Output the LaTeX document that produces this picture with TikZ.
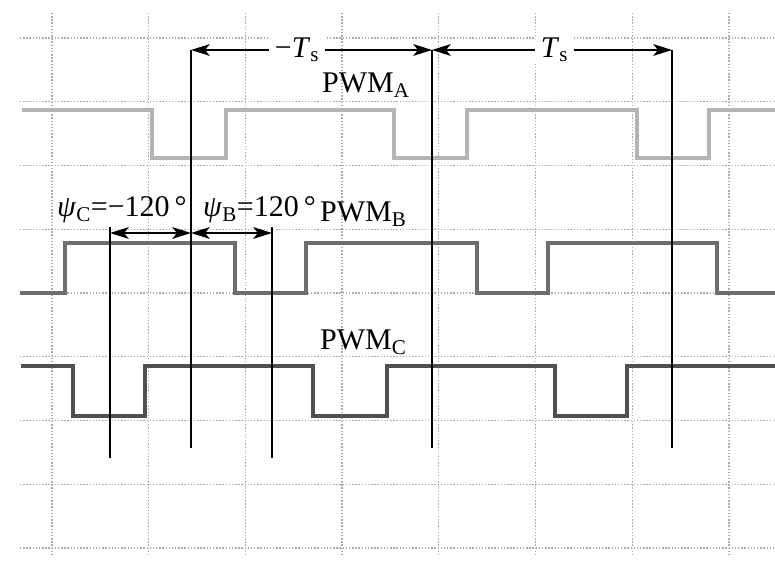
\documentclass[tikz,border=0pt]{standalone}
\usepackage{fontspec}
\setmainfont{Liberation Serif}
\usetikzlibrary{arrows.meta}
\definecolor{GridGray}{HTML}{ABABAB}
\definecolor{WaveA}{HTML}{B4B4B4}
\definecolor{WaveB}{HTML}{6E6E6E}
\definecolor{WaveC}{HTML}{505050}
\tikzset{
  gridline/.style={GridGray,line width=1.1pt,dash pattern=on 1.2pt off 1.5pt},
  wave/.style={line width=3.4pt},
  marker/.style={line width=1.5pt},
  dimarrow/.style={line width=1.3pt,{Stealth[length=16pt,width=10pt,inset=4pt]}-{Stealth[length=16pt,width=10pt,inset=4pt]}},
  lbl/.style={font=\fontsize{25.6}{30}\selectfont,inner sep=0pt},
  tslabel/.style={lbl,fill=white,inner xsep=5pt,inner ysep=2pt},
}
\begin{document}
\begin{tikzpicture}[x=0.03cm,y=-0.03cm]
  \useasboundingbox (0,0) rectangle (775,569);
  % grid
  \foreach \k in {0,...,7}
  \draw[gridline] ({52+96.7*\k},13) -- ({52+96.7*\k},556);
  \foreach \k in {0,...,8}
  \draw[gridline] (20,{38+63.75*\k}) -- (775,{38+63.75*\k});
  % pulse trains
  \draw[wave,WaveA] (22,110) -| (152,158) -| (226,110) -| (394,158) -| (467,110)
    -| (637,158) -| (709,110) -- (775,110);
  \draw[wave,WaveB] (20,293) -| (65,243) -| (235,293) -| (306,243) -| (477,293)
    -| (548,243) -| (717,293) -- (775,293);
  \draw[wave,WaveC] (21,366) -| (73,416) -| (145,366) -| (313,416) -| (387,366)
    -| (555,416) -| (627,366) -- (775,366);
  % marker lines
  \foreach \name/\x/\ya/\yb in {mC/110/227/458,m0/191/50/448,mB/272/227/458,mT/432/50/448,mTT/672/50/448}{
    \coordinate (\name top) at (\x,\ya);
    \coordinate (\name bot) at (\x,\yb);
    \draw[marker] (\name top) -- (\name bot);
  }
  \coordinate (psiC) at (110,233);
  \coordinate (psi0) at (191,233);
  \coordinate (psiB) at (272,233);
  % period and phase arrows
  \draw[dimarrow] (m0top) -- node[tslabel,pos=0.44] (tsneg) {−\textit{T}\textsubscript{s}} (mTtop);
  \draw[dimarrow] (mTtop) -- node[tslabel,pos=0.51] (tspos) {\textit{T}\textsubscript{s}} (mTTtop);
  \draw[dimarrow] (psiC) -- (psi0);
  \draw[dimarrow] (psi0) -- (psiB);
  % labels
  \node[lbl,anchor=base west] (pwma) at (322,93) {PWM\textsubscript{A}};
  \node[lbl,anchor=base west] (pwmb) at (320,222) {PWM\textsubscript{B}};
  \node[lbl,anchor=base west] (pwmc) at (320,350) {PWM\textsubscript{C}};
  \node[lbl,anchor=base west] (phic) at (57,217) {\textit{ψ}\textsubscript{C}=−120\,°};
  \node[lbl,anchor=base west] (phib) at (203,217) {\textit{ψ}\textsubscript{B}=120\,°};
\end{tikzpicture}
\end{document}
